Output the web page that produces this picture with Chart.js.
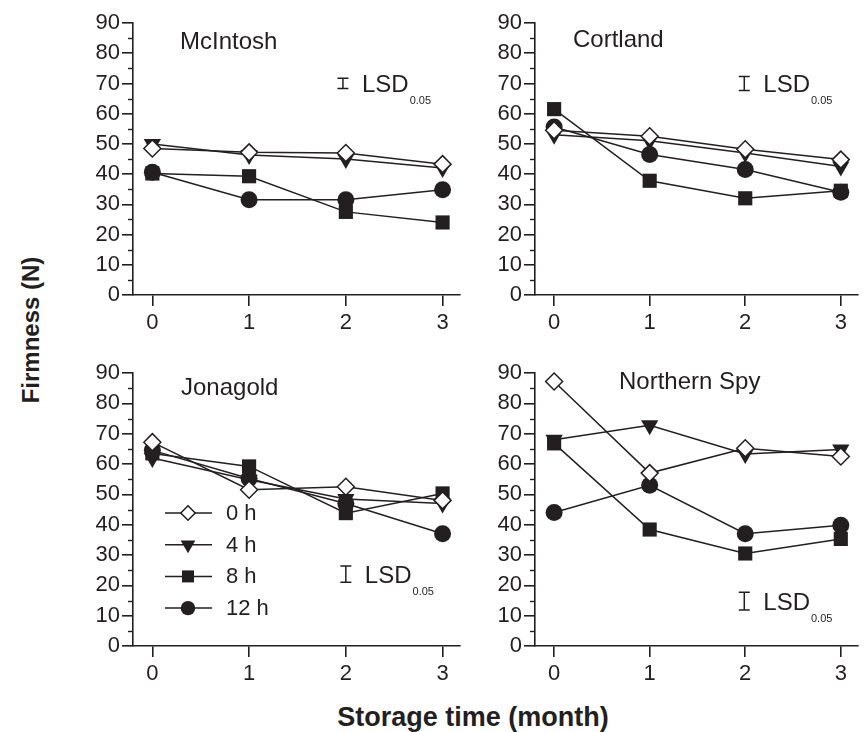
<!DOCTYPE html>
<html>
<head>
<meta charset="utf-8">
<title>Firmness during storage</title>
<script src="https://cdn.jsdelivr.net/npm/chart.js@4.4.0/dist/chart.umd.min.js"></script>
<style>
  body { margin: 0; background: #fff; width: 868px; height: 732px; position: relative; overflow: hidden;
         font-family: "Liberation Sans", Arial, sans-serif; color: #231f20; }
  canvas { position: absolute; }
  #yTitle { position: absolute; left: 31px; top: 330px; font-size: 24px; font-weight: bold; line-height: 1;
            white-space: nowrap; transform: translate(-50%, -50%) rotate(-90deg); }
  #xTitle { position: absolute; left: 473px; top: 704px; font-size: 27px; font-weight: bold; line-height: 1;
            white-space: nowrap; transform: translateX(-50%); }
</style>
</head>
<body>
<canvas id="mcintosh" width="390" height="340" style="left:80px;top:0px;width:390px;height:340px"></canvas>
<canvas id="cortland" width="386" height="340" style="left:482px;top:0px;width:386px;height:340px"></canvas>
<canvas id="jonagold" width="390" height="350" style="left:80px;top:350px;width:390px;height:350px"></canvas>
<canvas id="northernspy" width="386" height="350" style="left:482px;top:350px;width:386px;height:350px"></canvas>
<div id="yTitle">Firmness (N)</div>
<div id="xTitle">Storage time (month)</div>

<script>
// storage months and y tick values
const months = [0, 1, 2, 3];
const yTickValues = [0, 10, 20, 30, 40, 50, 60, 70, 80, 90];
const seriesLabels = ['0 h', '4 h', '8 h', '12 h'];

// firmness (N), one row per series: 0 h, 4 h, 8 h, 12 h
const mcintoshFirmness = [
  [48.5, 47.2, 47.0, 43.3],
  [50.0, 46.3, 45.0, 42.0],
  [40.2, 39.3, 27.5, 24.0],
  [40.6, 31.5, 31.5, 34.8]
];
const cortlandFirmness = [
  [54.5, 52.5, 48.2, 44.8],
  [53.0, 51.0, 47.0, 42.5],
  [61.5, 37.8, 32.0, 34.5],
  [55.6, 46.5, 41.5, 34.0]
];
const jonagoldFirmness = [
  [67.2, 51.5, 52.5, 48.0],
  [62.0, 54.8, 48.5, 47.0],
  [63.5, 59.2, 43.8, 50.3],
  [64.5, 55.2, 47.0, 37.0]
];
const northernSpyFirmness = [
  [87.2, 57.0, 65.2, 62.5],
  [68.0, 72.8, 63.3, 64.8],
  [66.8, 38.4, 30.5, 35.3],
  [44.0, 53.0, 37.0, 39.8]
];

// LSD (0.05) per cultivar
const lsdValues = [3.4, 4.6, 5.4, 5.9];

const ink = '#231f20';
const fontFamily = '"Liberation Sans", Arial, sans-serif';

const markers = [
  { style: 'rectRot', rotation: 0, radius: 8.5, fill: '#ffffff', border: 1.5 },
  { style: 'triangle', rotation: 180, radius: 10, fill: ink, border: 0 },
  { style: 'rect', rotation: 0, radius: 10, fill: ink, border: 0 },
  { style: 'circle', rotation: 0, radius: 8.5, fill: ink, border: 0 }
];

// layout of each panel (canvas ids, padding, where the labels sit)
const panels = [
  { id: 'mcintosh', name: 'McIntosh', values: mcintoshFirmness, lsd: lsdValues[0],
    pad: { top: 23, right: 10, bottom: 5 }, title: [47, 26], lsdAt: [1.97, 70], legend: false },
  { id: 'cortland', name: 'Cortland', values: cortlandFirmness, lsd: lsdValues[1],
    pad: { top: 23, right: 6, bottom: 5 }, title: [38, 24], lsdAt: [1.99, 70], legend: false },
  { id: 'jonagold', name: 'Jonagold', values: jonagoldFirmness, lsd: lsdValues[2],
    pad: { top: 23, right: 10, bottom: 14 }, title: [48, 22], lsdAt: [2.0, 23.7], legend: true },
  { id: 'northernspy', name: 'Northern Spy', values: northernSpyFirmness, lsd: lsdValues[3],
    pad: { top: 23, right: 6, bottom: 14 }, title: [84, 16], lsdAt: [1.99, 14.8], legend: false }
];

// minor y ticks, cultivar name, LSD bar and (optionally) the legend
const panelDecor = {
  id: 'panelDecor',
  afterDraw(chart, args, opts) {
    const ctx = chart.ctx;
    const area = chart.chartArea;
    const xs = chart.scales.x;
    const ys = chart.scales.y;
    ctx.save();
    ctx.strokeStyle = ink;
    ctx.fillStyle = ink;

    // minor ticks every 5 N
    ctx.lineWidth = 1.4;
    for (let v = 5; v < 90; v += 10) {
      const y = Math.round(ys.getPixelForValue(v)) + 0.5;
      ctx.beginPath();
      ctx.moveTo(area.left - 5, y);
      ctx.lineTo(area.left, y);
      ctx.stroke();
    }

    // cultivar name
    ctx.font = '24px ' + fontFamily;
    ctx.textBaseline = 'alphabetic';
    ctx.textAlign = 'left';
    ctx.fillText(opts.name, area.left + opts.title[0], area.top + opts.title[1]);

    // LSD bar
    const bx = xs.getPixelForValue(opts.lsdAt[0]);
    const by = ys.getPixelForValue(opts.lsdAt[1]);
    const half = (ys.getPixelForValue(0) - ys.getPixelForValue(opts.lsd)) / 2;
    ctx.lineWidth = 1.5;
    ctx.beginPath();
    ctx.moveTo(bx, by - half); ctx.lineTo(bx, by + half);
    ctx.moveTo(bx - 5.5, by - half); ctx.lineTo(bx + 5.5, by - half);
    ctx.moveTo(bx - 5.5, by + half); ctx.lineTo(bx + 5.5, by + half);
    ctx.stroke();
    const base = by + 8.6;
    ctx.fillText('LSD', bx + 19, base);
    const w = ctx.measureText('LSD').width;
    ctx.font = '11px ' + fontFamily;
    ctx.fillText('0.05', bx + 19 + w + 1, base + 12);

    // legend
    if (opts.legend) {
      chart.data.datasets.forEach((ds, i) => {
        const m = markers[i];
        const y = area.top + 140 + i * 31.7;
        const x0 = area.left + 32;
        ctx.lineWidth = 1.5;
        ctx.strokeStyle = ink;
        ctx.beginPath();
        ctx.moveTo(x0, y); ctx.lineTo(x0 + 47, y);
        ctx.stroke();
        ctx.fillStyle = m.fill;
        Chart.helpers.drawPoint(ctx, {
          pointStyle: m.style, rotation: m.rotation,
          radius: m.radius * 0.85, borderWidth: m.border
        }, x0 + 23, y);
        ctx.fillStyle = ink;
        ctx.font = '22px ' + fontFamily;
        ctx.textBaseline = 'middle';
        ctx.fillText(ds.label, area.left + 93, y + 1);
      });
    }
    ctx.restore();
  }
};

function makePanel(p) {
  const datasets = seriesLabels.map((label, s) => ({
    label: label,
    data: months.map((m, i) => ({ x: m, y: p.values[s][i] })),
    borderColor: ink,
    borderWidth: 1.5,
    tension: 0,
    clip: false,
    pointStyle: markers[s].style,
    pointRotation: markers[s].rotation,
    pointRadius: markers[s].radius,
    pointHoverRadius: markers[s].radius,
    pointBackgroundColor: markers[s].fill,
    pointBorderColor: ink,
    pointBorderWidth: markers[s].border
  }));

  const tickFont = { size: 22, family: fontFamily };
  const grid = { drawOnChartArea: false, drawTicks: true, tickLength: 11, color: ink, lineWidth: 1.6 };

  new Chart(document.getElementById(p.id), {
    type: 'line',
    data: { datasets },
    options: {
      responsive: false,
      animation: false,
      events: [],
      layout: { padding: { top: p.pad.top, right: p.pad.right, bottom: p.pad.bottom, left: 0 } },
      plugins: {
        legend: { display: false },
        tooltip: { enabled: false },
        panelDecor: { name: p.name, title: p.title, lsd: p.lsd, lsdAt: p.lsdAt, legend: p.legend }
      },
      scales: {
        x: {
          type: 'linear',
          min: -0.2,
          max: 3.18,
          afterBuildTicks: ax => { ax.ticks = months.map(v => ({ value: v })); },
          afterFit: ax => { ax.height = 40; },
          grid: grid,
          border: { color: ink, width: 1.6 },
          ticks: { font: tickFont, color: ink, padding: 4, maxRotation: 0 }
        },
        y: {
          min: 0,
          max: 90,
          afterBuildTicks: ax => { ax.ticks = yTickValues.map(v => ({ value: v })); },
          afterFit: ax => { ax.width = 53; },
          grid: grid,
          border: { color: ink, width: 1.6 },
          ticks: { font: tickFont, color: ink, padding: 2 }
        }
      }
    },
    plugins: [panelDecor]
  });
}

panels.forEach(makePanel);
</script>
</body>
</html>
